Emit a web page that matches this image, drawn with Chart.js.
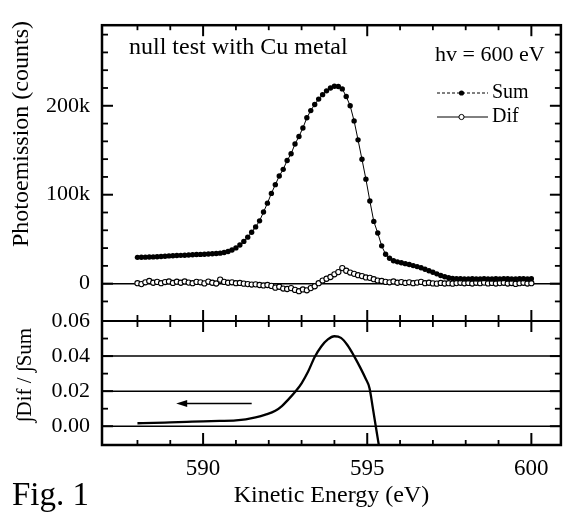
<!DOCTYPE html>
<html><head><meta charset="utf-8">
<script src="https://cdn.jsdelivr.net/npm/chart.js@4.4.1/dist/chart.umd.min.js"></script>
<style>html,body{margin:0;padding:0;background:#fff;}canvas{display:block;}</style>
</head><body>
<canvas id="c" width="566" height="512"></canvas>
<script>
// Kinetic energy grid (eV)
const energies = [
588.00,588.12,588.24,588.36,588.48,588.60,588.72,588.84,588.96,589.08,
589.20,589.32,589.44,589.56,589.68,589.80,589.92,590.04,590.16,590.28,
590.40,590.52,590.64,590.76,590.88,591.00,591.12,591.24,591.36,591.48,
591.60,591.72,591.84,591.96,592.08,592.20,592.32,592.44,592.56,592.68,
592.80,592.92,593.04,593.16,593.28,593.40,593.52,593.64,593.76,593.88,
594.00,594.12,594.24,594.36,594.48,594.60,594.72,594.84,594.96,595.08,
595.20,595.32,595.44,595.56,595.68,595.80,595.92,596.04,596.16,596.28,
596.40,596.52,596.64,596.76,596.88,597.00,597.12,597.24,597.36,597.48,
597.60,597.72,597.84,597.96,598.08,598.20,598.32,598.44,598.56,598.68,
598.80,598.92,599.04,599.16,599.28,599.40,599.52,599.64,599.76,599.88,
600.00];
// Sum photoemission (thousands of counts)
const sumK = [
29.6,29.7,29.8,30.0,30.1,30.3,30.5,30.8,31.2,31.4,
31.6,31.8,32.0,32.2,32.5,32.7,32.9,33.1,33.4,33.6,
33.9,34.3,35.0,36.2,37.8,40.2,43.5,47.5,52.3,57.8,
63.8,70.6,80.5,90.5,101.5,111.3,121.0,128.5,138.5,146.0,
157.0,165.5,175.0,186.5,194.6,201.5,207.5,212.5,216.8,220.0,
222.0,221.7,219.0,210.5,200.0,183.0,161.7,139.8,117.5,93.0,
70.0,57.0,42.5,33.0,28.5,25.8,24.5,23.5,22.5,21.6,
20.3,19.2,17.8,16.2,14.5,12.8,11.0,9.2,7.8,6.6,
5.9,5.6,5.5,5.4,5.4,5.5,5.3,5.4,5.6,5.4,
5.3,5.5,5.4,5.6,5.5,5.3,5.4,5.6,5.5,5.4,
5.6];
// Difference photoemission (thousands of counts)
const difK = [
0.5,-0.5,1.5,3.0,1.0,2.0,0.5,1.8,2.5,0.8,
2.2,1.0,2.5,1.2,0.5,2.0,1.5,0.3,2.3,1.0,
0.2,4.5,2.0,1.0,1.5,0.5,0.8,0.0,-0.5,-1.0,
-0.8,-1.5,-2.0,-1.5,-2.5,-4.5,-3.5,-5.5,-6.0,-5.0,
-7.0,-8.5,-6.5,-7.5,-5.0,-3.0,0.5,3.5,5.5,7.5,
10.5,13.0,17.5,14.5,12.5,11.0,9.5,8.5,7.0,6.5,
5.0,3.5,3.0,2.0,1.5,2.5,1.0,1.8,0.8,1.5,
0.5,1.2,2.0,0.5,1.0,0.3,0.0,0.8,0.2,0.5,
0.0,0.6,1.0,0.4,0.8,0.2,1.0,0.5,1.2,0.3,
0.8,0.2,0.6,1.0,0.2,0.7,-0.3,0.5,1.0,0.2,
0.5];
// Integrated ratio  ∫Dif / ∫Sum
const ratioEnergies = [588.0,588.5,589.0,589.5,590.0,590.5,591.0,591.3,591.6,591.9,592.2,592.4,592.6,592.8,593.0,593.2,593.4,593.6,593.8,594.0,594.2,594.4,594.6,594.8,594.95,595.07,595.17,595.26,595.36,595.45];
const ratioValues   = [0.0017,0.0019,0.0022,0.0025,0.0028,0.0030,0.0033,0.0039,0.0050,0.0066,0.0088,0.0115,0.0153,0.0195,0.0245,0.0312,0.0395,0.0455,0.0495,0.0513,0.0504,0.0462,0.0400,0.0330,0.0272,0.0217,0.0105,0.0000,-0.0115,-0.0220];
// Arrow (tail energy, head energy) and its level in the lower panel
const arrowEnergies = [591.48, 589.18];
const arrowLevel = 0.013;
// Tick positions
const xMajorTicks = [590, 595, 600];
const xMinorTicks = [588, 589, 591, 592, 593, 594, 596, 597, 598, 599];
const topMajorTicks = [0, 100, 200];
const topMinorTicks = [-20, 20, 40, 60, 80, 120, 140, 160, 180, 220, 240, 260, 280];
const bottomMajorTicks = [0, 0.02, 0.04, 0.06];
const bottomMinorTicks = [0.01, 0.03, 0.05];
const bottomGridLines = [0, 0.02, 0.04];

const SERIF = '"Liberation Serif", "Times New Roman", serif';
Chart.defaults.font.family = SERIF;
Chart.defaults.color = '#000';

const decor = {
  id: 'decor',
  beforeDatasetsDraw(chart) {
    const {ctx, chartArea: a, scales} = chart;
    const yt = scales.yt, yb = scales.yb;
    ctx.save();
    ctx.strokeStyle = '#000';
    ctx.lineWidth = 1.5;
    const hline = (y) => { ctx.beginPath(); ctx.moveTo(a.left, y); ctx.lineTo(a.right, y); ctx.stroke(); };
    hline(yt.getPixelForValue(0));
    bottomGridLines.forEach(v => hline(yb.getPixelForValue(v)));
    ctx.restore();
  },
  afterDatasetsDraw(chart) {
    const {ctx, chartArea: a, scales} = chart;
    const x = scales.x, yt = scales.yt, yb = scales.yb;
    ctx.save();
    ctx.strokeStyle = '#000';
    ctx.fillStyle = '#000';
    const seg = (x1, y1, x2, y2) => { ctx.beginPath(); ctx.moveTo(x1, y1); ctx.lineTo(x2, y2); ctx.stroke(); };
    // frame
    ctx.lineWidth = 2.5;
    ctx.strokeRect(a.left, a.top, a.right - a.left, a.bottom - a.top);
    const mid = yb.getPixelForValue(0.06);
    ctx.lineWidth = 2;
    seg(a.left, mid, a.right, mid);
    // x ticks
    ctx.lineWidth = 2;
    xMajorTicks.forEach(v => {
      const px = x.getPixelForValue(v);
      seg(px, a.top, px, a.top + 11);
      seg(px, mid - 11, px, mid + 11);
      seg(px, a.bottom, px, a.bottom - 12);
    });
    ctx.lineWidth = 1.8;
    xMinorTicks.forEach(v => {
      const px = x.getPixelForValue(v);
      seg(px, a.top, px, a.top + 5);
      seg(px, mid - 6, px, mid + 6);
      seg(px, a.bottom, px, a.bottom - 5);
    });
    // y ticks
    ctx.lineWidth = 2;
    topMajorTicks.forEach(v => {
      const py = yt.getPixelForValue(v);
      seg(a.left, py, a.left + 11, py);
      seg(a.right, py, a.right - 11, py);
    });
    bottomMajorTicks.forEach(v => {
      const py = yb.getPixelForValue(v);
      seg(a.left, py, a.left + 11, py);
      seg(a.right, py, a.right - 11, py);
    });
    ctx.lineWidth = 1.8;
    topMinorTicks.forEach(v => {
      const py = yt.getPixelForValue(v);
      seg(a.left, py, a.left + 6, py);
      seg(a.right, py, a.right - 6, py);
    });
    bottomMinorTicks.forEach(v => {
      const py = yb.getPixelForValue(v);
      seg(a.left, py, a.left + 6, py);
      seg(a.right, py, a.right - 6, py);
    });
    // arrow
    const ay = yb.getPixelForValue(arrowLevel);
    const tx = x.getPixelForValue(arrowEnergies[0]);
    const hx = x.getPixelForValue(arrowEnergies[1]);
    ctx.lineWidth = 1.5;
    seg(tx, ay, hx + 8, ay);
    ctx.beginPath();
    ctx.moveTo(hx, ay); ctx.lineTo(hx + 11, ay - 3.5); ctx.lineTo(hx + 11, ay + 3.5); ctx.closePath(); ctx.fill();
    // texts
    ctx.textBaseline = 'middle';
    ctx.textAlign = 'left';
    ctx.font = '24px ' + SERIF;
    ctx.fillText('null test with Cu metal', 129, 48);
    ctx.font = '22px ' + SERIF;
    ctx.fillText('hv = 600 eV', 435, 55);
    // legend
    ctx.font = '20px ' + SERIF;
    ctx.lineWidth = 1;
    ctx.setLineDash([3, 2]);
    seg(437, 93, 488, 93);
    ctx.setLineDash([]);
    ctx.beginPath(); ctx.arc(461.5, 93, 2.6, 0, Math.PI * 2); ctx.fill();
    ctx.fillText('Sum', 492, 93);
    seg(437, 117, 488, 117);
    ctx.beginPath(); ctx.arc(461.5, 117, 2.6, 0, Math.PI * 2);
    ctx.fillStyle = '#fff'; ctx.fill(); ctx.stroke(); ctx.fillStyle = '#000';
    ctx.fillText('Dif', 492, 117);
    // y titles
    ctx.textAlign = 'center';
    ctx.save();
    ctx.translate(22, 134); ctx.rotate(-Math.PI / 2);
    ctx.font = '24px ' + SERIF;
    ctx.fillText('Photoemission (counts)', 0, 0);
    ctx.restore();
    ctx.save();
    ctx.translate(25, 375); ctx.rotate(-Math.PI / 2);
    ctx.font = '21px ' + SERIF;
    ctx.fillText('\u222BDif / \u222BSum', 0, 0);
    ctx.restore();
    // figure label
    ctx.textAlign = 'left';
    ctx.textBaseline = 'alphabetic';
    ctx.font = '33px ' + SERIF;
    ctx.fillText('Fig. 1', 12, 505);
    ctx.restore();
  }
};

new Chart(document.getElementById('c'), {
  type: 'line',
  data: {
    datasets: [
      {
        label: 'Sum', yAxisID: 'yt',
        data: energies.map((e, i) => ({x: e, y: sumK[i]})),
        borderColor: '#000', borderWidth: 1,
        pointRadius: 2.7, pointBackgroundColor: '#000', pointBorderWidth: 0,
        showLine: true
      },
      {
        label: 'Dif', yAxisID: 'yt',
        data: energies.map((e, i) => ({x: e, y: difK[i]})),
        borderColor: '#000', borderWidth: 1,
        pointRadius: 2.6, pointBackgroundColor: '#fff', pointBorderColor: '#000', pointBorderWidth: 1.1,
        showLine: true
      },
      {
        label: 'Ratio', yAxisID: 'yb',
        data: ratioEnergies.map((e, i) => ({x: e, y: ratioValues[i]})),
        borderColor: '#000', borderWidth: 2.3, pointRadius: 0,
        cubicInterpolationMode: 'monotone'
      }
    ]
  },
  options: {
    responsive: false, animation: false, devicePixelRatio: 1,
    layout: {padding: {left: 0, right: 2, top: 14, bottom: 0}},
    plugins: {legend: {display: false}, tooltip: {enabled: false}},
    scales: {
      x: {
        type: 'linear', position: 'bottom', min: 586.92, max: 600.9,
        grid: {display: false, drawTicks: false}, border: {display: false},
        ticks: {stepSize: 5, includeBounds: false, autoSkip: false, maxRotation: 0, padding: 10,
                font: {size: 23}, color: '#000', callback: v => String(v)},
        title: {display: true, text: 'Kinetic Energy (eV)', font: {size: 24}, color: '#000', padding: {top: 0, bottom: 2}},
        afterFit(s) { s.height = 67; }
      },
      yb: {
        type: 'linear', position: 'left', stack: 'panels', stackWeight: 127.3,
        min: -0.0107, max: 0.06,
        grid: {display: false, drawTicks: false}, border: {display: false},
        ticks: {stepSize: 0.02, includeBounds: false, autoSkip: false, padding: 12, font: {size: 22}, color: '#000',
                callback: v => v.toFixed(2)},
        afterFit(s) { s.width = 102; }
      },
      yt: {
        type: 'linear', position: 'left', stack: 'panels', stackWeight: 303.7,
        min: -42, max: 290.6,
        grid: {display: false, drawTicks: false}, border: {display: false},
        ticks: {stepSize: 100, includeBounds: false, autoSkip: false, padding: 12, font: {size: 22}, color: '#000',
                callback: v => (v === 0 ? '0' : v + 'k')},
        afterFit(s) { s.width = 102; }
      }
    }
  },
  plugins: [decor]
});
</script>
</body></html>
